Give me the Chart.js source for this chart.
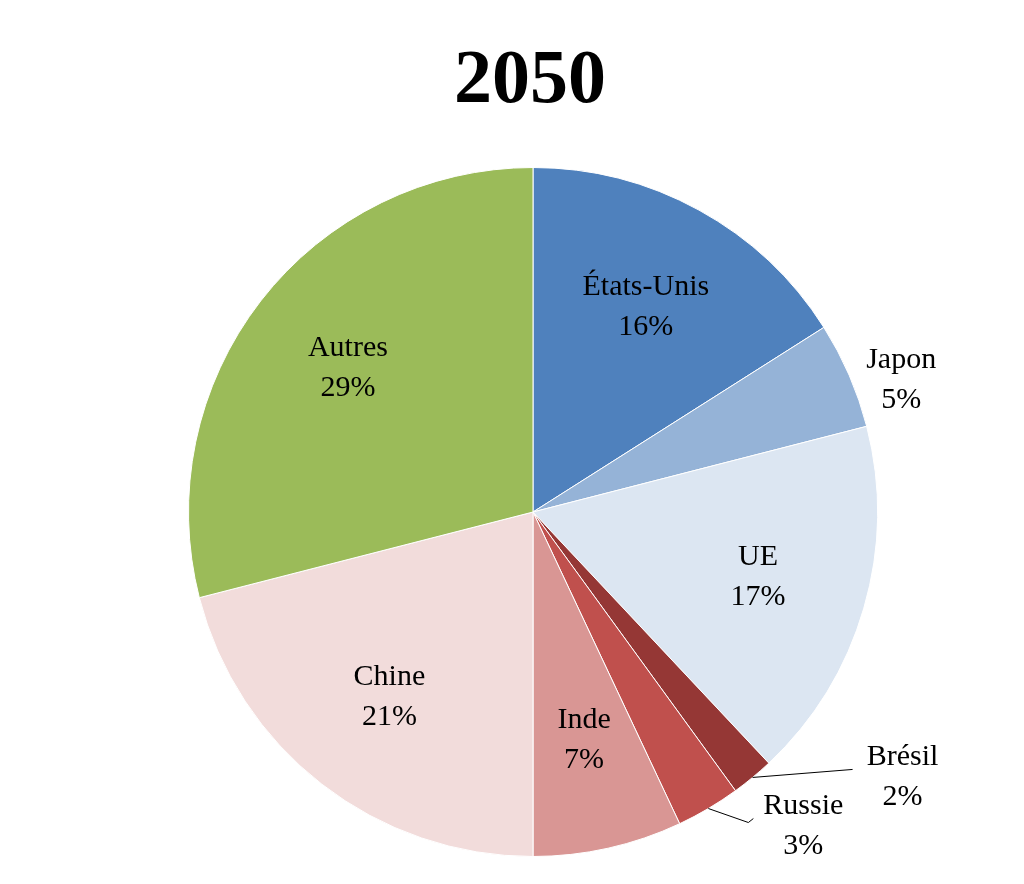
<!DOCTYPE html>
<html><head><meta charset="utf-8">
<script src="https://cdn.jsdelivr.net/npm/chart.js@4/dist/chart.umd.min.js"></script>
<style>html,body{margin:0;background:#fff}#c{display:block}</style></head>
<body><canvas id="c" width="1024" height="884"></canvas>
<script>
const titleText = "2050";
const categories = ["États-Unis","Japon","UE","Brésil","Russie","Inde","Chine","Autres"];
const values = [16,5,17,2,3,7,21,29];
const colors = ["#4F81BD","#95B3D7","#DCE6F2","#953735","#C0504D","#D99694","#F2DCDB","#9BBB59"];
// label placement: inside (factor of radius) or outside (pixel offset from arc edge, with leader line)
const placement = {
  "Japon": {out:[52,5], line:false},
  "Brésil": {out:[150,0], line:[100,-8]},
  "Russie": {out:[95,18], line:[40,14]}
};
const labelPlugin = {
  id:'lbl',
  afterDraw(chart){
    const ctx = chart.ctx;
    ctx.save();
    ctx.font = "bold 76px 'Liberation Serif'";
    ctx.fillStyle="#000"; ctx.textAlign="center"; ctx.textBaseline="middle";
    ctx.fillText(titleText, 530, 82);
    ctx.font = "30px 'Liberation Serif'";
    const meta = chart.getDatasetMeta(0);
    meta.data.forEach((arc,i)=>{
      const name = categories[i];
      const mid = (arc.startAngle+arc.endAngle)/2;
      const R = arc.outerRadius;
      let x,y;
      const p = placement[name];
      if(p){
        const ex = arc.x + R*Math.cos(mid), ey = arc.y + R*Math.sin(mid);
        x = ex + p.out[0]; y = ey + p.out[1];
        if(p.line){
          ctx.strokeStyle="#000"; ctx.lineWidth=1;
          ctx.beginPath(); ctx.moveTo(ex,ey); ctx.lineTo(ex+p.line[0], ey+p.line[1]); ctx.lineTo(x-50, y-8); ctx.stroke();
        }
      } else {
        x = arc.x + 0.68*R*Math.cos(mid); y = arc.y + 0.68*R*Math.sin(mid);
      }
      ctx.fillStyle="#000";
      ctx.fillText(name, x, y-20);
      ctx.fillText(values[i]+"%", x, y+20);
    });
    ctx.restore();
  }
};
new Chart(document.getElementById('c'),{
  type:'pie',
  data:{labels:categories,datasets:[{data:values,backgroundColor:colors,borderColor:"#ffffff",borderWidth:1}]},
  options:{responsive:false,animation:false,
    layout:{padding:{top:167,bottom:27,left:188,right:146}},
    plugins:{legend:{display:false},tooltip:{enabled:false},title:{display:false}}},
  plugins:[labelPlugin]
});
</script></body></html>
